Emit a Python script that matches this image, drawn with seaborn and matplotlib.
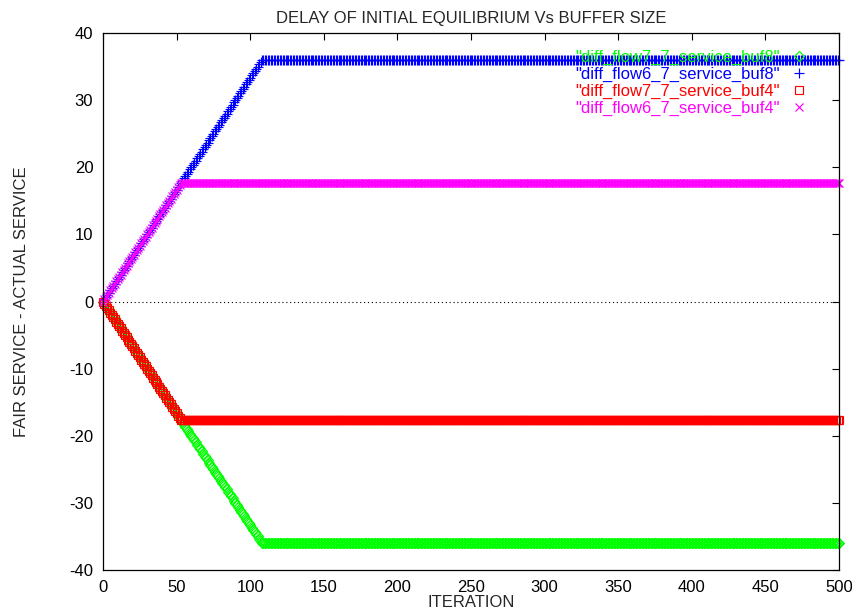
import matplotlib
matplotlib.use("Agg")
import matplotlib.pyplot as plt
import seaborn as sns

# ---- data ----
iterations = list(range(0, 501))

buf8_up_ramp = [0, 0.33, 0.67, 1, 1.33, 1.67, 2, 2.33, 2.67, 3, 3.33, 3.67,
                4, 4.33, 4.67, 5, 5.33, 5.67, 6, 6.33, 6.67, 7, 7.33, 7.67,
                8, 8.33, 8.67, 9, 9.33, 9.67, 10, 10.33, 10.67, 11, 11.33, 11.67,
                12, 12.33, 12.67, 13, 13.33, 13.67, 14, 14.33, 14.67, 15, 15.33, 15.67,
                16, 16.33, 16.67, 17, 17.33, 17.67, 18, 18.33, 18.67, 19, 19.33, 19.67,
                20, 20.33, 20.67, 21, 21.33, 21.67, 22, 22.33, 22.67, 23, 23.33, 23.67,
                24, 24.33, 24.67, 25, 25.33, 25.67, 26, 26.33, 26.67, 27, 27.33, 27.67,
                28, 28.33, 28.67, 29, 29.33, 29.67, 30, 30.33, 30.67, 31, 31.33, 31.67,
                32, 32.33, 32.67, 33, 33.33, 33.67, 34, 34.33, 34.67, 35, 35.33, 35.67,
                36]
buf8_up_flat = [36.0] * 392

buf8_down_ramp = [0, -0.33, -0.67, -1, -1.33, -1.67, -2, -2.33, -2.67, -3, -3.33, -3.67,
                  -4, -4.33, -4.67, -5, -5.33, -5.67, -6, -6.33, -6.67, -7, -7.33, -7.67,
                  -8, -8.33, -8.67, -9, -9.33, -9.67, -10, -10.33, -10.67, -11, -11.33, -11.67,
                  -12, -12.33, -12.67, -13, -13.33, -13.67, -14, -14.33, -14.67, -15, -15.33, -15.67,
                  -16, -16.33, -16.67, -17, -17.33, -17.67, -18, -18.33, -18.67, -19, -19.33, -19.67,
                  -20, -20.33, -20.67, -21, -21.33, -21.67, -22, -22.33, -22.67, -23, -23.33, -23.67,
                  -24, -24.33, -24.67, -25, -25.33, -25.67, -26, -26.33, -26.67, -27, -27.33, -27.67,
                  -28, -28.33, -28.67, -29, -29.33, -29.67, -30, -30.33, -30.67, -31, -31.33, -31.67,
                  -32, -32.33, -32.67, -33, -33.33, -33.67, -34, -34.33, -34.67, -35, -35.33, -35.67,
                  -36]
buf8_down_flat = [-36.0] * 392

buf4_up_ramp = [0, 0.33, 0.67, 1, 1.33, 1.67, 2, 2.33, 2.67, 3, 3.33, 3.67,
                4, 4.33, 4.67, 5, 5.33, 5.67, 6, 6.33, 6.67, 7, 7.33, 7.67,
                8, 8.33, 8.67, 9, 9.33, 9.67, 10, 10.33, 10.67, 11, 11.33, 11.67,
                12, 12.33, 12.67, 13, 13.33, 13.67, 14, 14.33, 14.67, 15, 15.33, 15.67,
                16, 16.33, 16.67, 17, 17.33, 17.67]
buf4_up_flat = [17.67] * 447

buf4_down_ramp = [0, -0.33, -0.67, -1, -1.33, -1.67, -2, -2.33, -2.67, -3, -3.33, -3.67,
                  -4, -4.33, -4.67, -5, -5.33, -5.67, -6, -6.33, -6.67, -7, -7.33, -7.67,
                  -8, -8.33, -8.67, -9, -9.33, -9.67, -10, -10.33, -10.67, -11, -11.33, -11.67,
                  -12, -12.33, -12.67, -13, -13.33, -13.67, -14, -14.33, -14.67, -15, -15.33, -15.67,
                  -16, -16.33, -16.67, -17, -17.33, -17.67]
buf4_down_flat = [-17.67] * 447

flow7_buf8 = buf8_down_ramp + buf8_down_flat
flow6_buf8 = buf8_up_ramp + buf8_up_flat
flow7_buf4 = buf4_down_ramp + buf4_down_flat
flow6_buf4 = buf4_up_ramp + buf4_up_flat

labels = ['"diff_flow7_7_service_buf8"', '"diff_flow6_7_service_buf8"',
          '"diff_flow7_7_service_buf4"', '"diff_flow6_7_service_buf4"']
colors = ['#00ff00', '#0000ff', '#ff0000', '#ff00ff']
x_ticks = [0, 50, 100, 150, 200, 250, 300, 350, 400, 450, 500]
y_ticks = [-40, -30, -20, -10, 0, 10, 20, 30, 40]

# ---- style ----
sns.set_style("white")
plt.rcParams['font.family'] = ['Liberation Sans', 'DejaVu Sans']
plt.rcParams['font.size'] = 12
plt.rcParams['axes.unicode_minus'] = False

fig = plt.figure(figsize=(8.53, 6.13), dpi=100)
ax = fig.add_axes([103 / 853, 1 - 570 / 613, (839 - 103) / 853, (570 - 33) / 613])

series = [flow7_buf8, flow6_buf8, flow7_buf4, flow6_buf4]
markers = ['D', '+', 's', 'x']
msizes = [5.0, 7.0, 6.0, 5.5]
for vals, lab, col, mk, ms in zip(series, labels, colors, markers, msizes):
    sns.lineplot(x=iterations, y=vals, ax=ax, label=lab, color=col, linestyle='',
                 marker=mk, markersize=ms, markerfacecolor='none',
                 markeredgecolor=col, markeredgewidth=0.85, sort=False,
                 estimator=None, clip_on=False)

ax.axhline(0, color='black', linestyle=(0, (1, 2.5)), linewidth=0.8, zorder=0)

ax.set_xlim(0, 500)
ax.set_ylim(-40, 40)
ax.set_xticks(x_ticks)
ax.set_yticks(y_ticks)
ax.tick_params(direction='in', length=5, width=0.8, top=True, right=True,
               labelsize=12, colors='black', pad=7)
for s in ax.spines.values():
    s.set_visible(True)
    s.set_color('black')
    s.set_linewidth(0.9)

ax.set_title('DELAY OF INITIAL EQUILIBRIUM Vs BUFFER SIZE', fontsize=12, pad=7)
ax.set_xlabel('ITERATION', fontsize=12, labelpad=0.5)
ax.set_ylabel('FAIR SERVICE - ACTUAL SERVICE', fontsize=12, labelpad=29)

leg = ax.legend(loc='upper right', bbox_to_anchor=(0.975, 0.99), frameon=False,
                markerfirst=False, labelcolor=colors, fontsize=12,
                labelspacing=0.1, handlelength=1.2, handletextpad=0.55,
                borderaxespad=0.3)

fig.savefig('out.png', dpi=100)
